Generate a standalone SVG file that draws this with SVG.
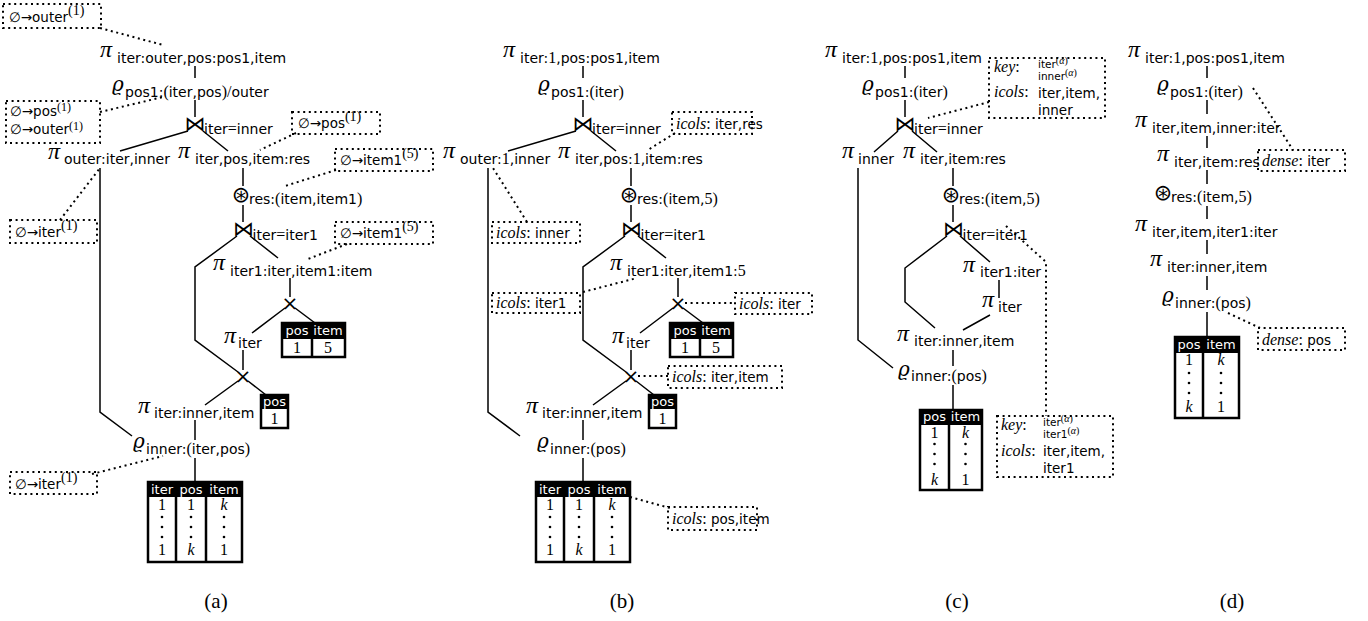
<svg xmlns="http://www.w3.org/2000/svg" width="1368" height="621" viewBox="0 0 1368 621">
<style>
.op{font-family:"Liberation Serif","DejaVu Serif",serif;font-size:24px;font-style:italic}
.rho{font-family:"DejaVu Serif","Liberation Serif",serif;font-size:20px;font-style:italic}
.bow{font-family:"DejaVu Sans",sans-serif;font-size:21px;text-anchor:middle}
.ost{font-family:"DejaVu Sans",sans-serif;font-size:22px;text-anchor:middle}
.x{font-family:"DejaVu Sans",sans-serif;font-size:20px;text-anchor:middle}
.sub{font-family:"DejaVu Sans",sans-serif;font-size:14px}
.rm{font-family:"Liberation Serif",serif;font-size:16px;font-style:normal}
.bt{font-family:"DejaVu Sans",sans-serif;font-size:13.5px}
.sm{font-family:"DejaVu Sans",sans-serif;font-size:10.5px}
.sup{font-family:"Liberation Serif",serif;font-size:14px}
.sup1{font-family:"Liberation Serif",serif;font-size:12px}
.sup2{font-family:"Liberation Serif",serif;font-size:10px}
.it{font-family:"Liberation Serif",serif;font-size:16px;font-style:italic}
.box,.dot{fill:none;stroke:#000;stroke-width:2;stroke-dasharray:2 3.6}
.edge{fill:none;stroke:#000;stroke-width:1.5}
.tbl{fill:#fff;stroke:#000;stroke-width:2.5}
.col{stroke:#000;stroke-width:2.5}
.th{fill:#000}
.tht{font-family:"DejaVu Sans",sans-serif;font-size:13px;fill:#fff;text-anchor:middle}
.td{font-family:"Liberation Serif",serif;font-size:16px;text-anchor:middle}
.tdi{font-style:italic}
.el{fill:#000}
.cap{font-family:"Liberation Serif",serif;font-size:21px;text-anchor:middle}
</style>
<defs>
  <g id="vd3"><circle class="el" cx="0" cy="0" r="1.3"/><circle class="el" cx="0" cy="10" r="1.3"/><circle class="el" cx="0" cy="20" r="1.3"/></g>
</defs>

<g id="connectors">
  <!-- (a) -->
  <path class="edge" d="M195,66 V78 M195,100 V117 M188,131 L120,151 M203,131 L228,151 M243,168 V186 M243,205 V222 M237,236 L195,267 V340 L238,372 M250,236 L278,258 M290,278 V297 M285,308 L252,333 M295,308 L315,323 M243,350 V370 M238,381 L205,405 M248,381 L266,395 M195,420 V440 M195,458 V482 M100,168 V412 L132,436"/>
  <path class="dot" d="M100,28 L163,45 M100,112 L163,97 M296,133 L260,150 M336,170 L285,186 M347,244 L308,259 M60,220 L100,168 M92,474 L163,456"/>
  <!-- (b) -->
  <path class="edge" d="M583,66 V78 M583,100 V117 M576,131 L508,151 M591,131 L616,151 M631,168 V186 M631,205 V222 M625,236 L583,267 V340 L626,372 M638,236 L666,258 M678,278 V297 M673,308 L640,333 M683,308 L703,323 M631,350 V370 M626,381 L593,405 M636,381 L654,395 M583,420 V440 M583,458 V482 M488,168 V412 L520,436"/>
  <path class="dot" d="M675,133 L648,150 M527,222 L493,168 M583,292 L637,278 M685,303 L735,303 M638,376 L668,376 M630,497 L670,508"/>
  <!-- (c) -->
  <path class="edge" d="M905,66 V78 M905,100 V117 M898,131 L874,152 M912,131 L937,152 M858,168 V340 L893,368 M953,168 V186 M953,205 V222 M947,236 L905,268 V302 L935,328 M960,236 L990,262 M999,280 V298 M990,315 L963,330 M953,350 V366 M953,385 V410"/>
  <path class="dot" d="M989,102 L928,118 M1006,226 L1046,262 V416"/>
  <!-- (d) -->
  <path class="edge" d="M1207,66 V78 M1207,100 V114 M1207,136 V148 M1207,170 V184 M1207,206 V219 M1207,240 V254 M1207,276 V290 M1207,312 V337"/>
  <path class="dot" d="M1253,88 L1293,150 M1228,313 L1260,328"/>
</g>

<!-- ===== (a) ===== -->
<g id="a-n1"><text class="op" x="100" y="57">π</text><text class="sub" x="117" y="63">iter:outer,pos:pos1,item</text></g>
<g id="a-n2"><text class="rho" x="112" y="91">ϱ</text><text class="sub" x="125" y="97">pos1:<tspan class="rm">(</tspan>iter,pos<tspan class="rm">)/</tspan>outer</text></g>
<g id="a-n3"><text class="bow" x="195" y="131">⋈</text><text class="sub" x="204" y="134">iter<tspan class="rm">=</tspan>inner</text></g>
<g id="a-n4"><text class="op" x="48" y="159">π</text><text class="sub" x="64" y="164">outer:iter,inner</text></g>
<g id="a-n5"><text class="op" x="178" y="158">π</text><text class="sub" x="195" y="164">iter,pos,item:res</text></g>
<g id="a-n6"><text class="ost" x="241" y="202">⊛</text><text class="sub" x="249" y="204">res:<tspan class="rm">(</tspan>item,item1<tspan class="rm">)</tspan></text></g>
<g id="a-n7"><text class="bow" x="243.5" y="236">⋈</text><text class="sub" x="252.5" y="240">iter<tspan class="rm">=</tspan>iter1</text></g>
<g id="a-n8"><text class="op" x="213" y="270">π</text><text class="sub" x="230" y="276">iter1:iter,item1:item</text></g>
<g id="a-n9"><text class="x" x="290" y="310">×</text></g>
<g id="a-n10">
  <rect class="tbl" x="282" y="323" width="63" height="34"/>
  <rect class="th" x="282" y="323" width="63" height="16"/>
  <path class="col" d="M312,339 V357"/>
  <text class="tht" x="297" y="335">pos</text><text class="tht" x="328" y="335">item</text>
  <text class="td" x="297" y="353">1</text><text class="td" x="328" y="353">5</text>
</g>
<g id="a-n11"><text class="op" x="224" y="343">π</text><text class="sub" x="238" y="348">iter</text></g>
<g id="a-n12"><text class="x" x="243" y="383">×</text></g>
<g id="a-n13">
  <rect class="tbl" x="261" y="395" width="27" height="33"/>
  <rect class="th" x="261" y="395" width="27" height="14"/>
  <text class="tht" x="274.5" y="406">pos</text>
  <text class="td" x="274.5" y="424">1</text>
</g>
<g id="a-n14"><text class="op" x="138" y="413">π</text><text class="sub" x="154" y="418">iter:inner,item</text></g>
<g id="a-n15"><text class="rho" x="133" y="448">ϱ</text><text class="sub" x="146" y="454">inner:<tspan class="rm">(</tspan>iter,pos<tspan class="rm">)</tspan></text></g>
<g id="a-n16">
  <rect class="tbl" x="148" y="482" width="94" height="80"/>
  <rect class="th" x="148" y="482" width="94" height="15"/>
  <path class="col" d="M176,497 V562 M206,497 V562"/>
  <text class="tht" x="162" y="494">iter</text><text class="tht" x="191" y="494">pos</text><text class="tht" x="224" y="494">item</text>
  <text class="td" x="162" y="510">1</text><text class="td" x="191" y="510">1</text><text class="td tdi" x="224" y="510">k</text>
  <use href="#vd3" x="162" y="517"/><use href="#vd3" x="191" y="517"/><use href="#vd3" x="224" y="517"/>
  <text class="td" x="162" y="555">1</text><text class="td tdi" x="191" y="555">k</text><text class="td" x="224" y="555">1</text>
</g>
<g id="a-b1"><rect class="box" x="3" y="4" width="98" height="24"/><text class="bt" x="9" y="22">∅→outer<tspan class="sup" dy="-7">(1)</tspan></text></g>
<g id="a-b2"><rect class="box" x="6" y="101" width="94" height="42"/><text class="bt" x="10" y="116">∅→pos<tspan class="sup1" dy="-5">(1)</tspan></text><text class="bt" x="10" y="134">∅→outer<tspan class="sup1" dy="-4">(1)</tspan></text></g>
<g id="a-b3"><rect class="box" x="292" y="112" width="88" height="22"/><text class="bt" x="298" y="128">∅→pos<tspan class="sup" dy="-7">(1)</tspan></text></g>
<g id="a-b4"><rect class="box" x="335" y="149" width="98" height="22"/><text class="bt" x="340" y="165">∅→item1<tspan class="sup" dy="-7">(5)</tspan></text></g>
<g id="a-b5"><rect class="box" x="10" y="220" width="87" height="23"/><text class="bt" x="15" y="237">∅→iter<tspan class="sup" dy="-7">(1)</tspan></text></g>
<g id="a-b6"><rect class="box" x="335" y="222" width="98" height="22"/><text class="bt" x="340" y="238">∅→item1<tspan class="sup" dy="-7">(5)</tspan></text></g>
<g id="a-b7"><rect class="box" x="10" y="472" width="87" height="22"/><text class="bt" x="15" y="489">∅→iter<tspan class="sup" dy="-7">(1)</tspan></text></g>
<g id="a-cap"><text class="cap" x="216" y="608">(a)</text></g>

<!-- ===== (b) ===== -->
<g id="b-n1"><text class="op" x="503" y="57">π</text><text class="sub" x="520" y="63">iter:<tspan class="rm">1</tspan>,pos:pos1,item</text></g>
<g id="b-n2"><text class="rho" x="538" y="91">ϱ</text><text class="sub" x="551" y="97">pos1:<tspan class="rm">(</tspan>iter<tspan class="rm">)</tspan></text></g>
<g id="b-n3"><text class="bow" x="583" y="131">⋈</text><text class="sub" x="592" y="134">iter<tspan class="rm">=</tspan>inner</text></g>
<g id="b-n4"><text class="op" x="443" y="158">π</text><text class="sub" x="460" y="164">outer:<tspan class="rm">1</tspan>,inner</text></g>
<g id="b-n5"><text class="op" x="558" y="158">π</text><text class="sub" x="575" y="164">iter,pos:<tspan class="rm">1</tspan>,item:res</text></g>
<g id="b-n6"><text class="ost" x="629" y="202">⊛</text><text class="sub" x="637" y="204">res:<tspan class="rm">(</tspan>item,<tspan class="rm">5)</tspan></text></g>
<g id="b-n7"><text class="bow" x="631.5" y="236">⋈</text><text class="sub" x="640.5" y="240">iter<tspan class="rm">=</tspan>iter1</text></g>
<g id="b-n8"><text class="op" x="610" y="270">π</text><text class="sub" x="627" y="276">iter1:iter,item1:<tspan class="rm">5</tspan></text></g>
<g id="b-n9"><text class="x" x="678" y="310">×</text></g>
<g id="b-n10">
  <rect class="tbl" x="670" y="323" width="63" height="34"/>
  <rect class="th" x="670" y="323" width="63" height="16"/>
  <path class="col" d="M700,339 V357"/>
  <text class="tht" x="685" y="335">pos</text><text class="tht" x="716" y="335">item</text>
  <text class="td" x="685" y="353">1</text><text class="td" x="716" y="353">5</text>
</g>
<g id="b-n11"><text class="op" x="612" y="343">π</text><text class="sub" x="626" y="348">iter</text></g>
<g id="b-n12"><text class="x" x="631" y="383">×</text></g>
<g id="b-n13">
  <rect class="tbl" x="649" y="395" width="27" height="33"/>
  <rect class="th" x="649" y="395" width="27" height="14"/>
  <text class="tht" x="662.5" y="406">pos</text>
  <text class="td" x="662.5" y="424">1</text>
</g>
<g id="b-n14"><text class="op" x="526" y="413">π</text><text class="sub" x="542" y="418">iter:inner,item</text></g>
<g id="b-n15"><text class="rho" x="537" y="448">ϱ</text><text class="sub" x="550" y="454">inner:<tspan class="rm">(</tspan>pos<tspan class="rm">)</tspan></text></g>
<g id="b-n16">
  <rect class="tbl" x="536" y="482" width="94" height="80"/>
  <rect class="th" x="536" y="482" width="94" height="15"/>
  <path class="col" d="M564,497 V562 M594,497 V562"/>
  <text class="tht" x="550" y="494">iter</text><text class="tht" x="579" y="494">pos</text><text class="tht" x="612" y="494">item</text>
  <text class="td" x="550" y="510">1</text><text class="td" x="579" y="510">1</text><text class="td tdi" x="612" y="510">k</text>
  <use href="#vd3" x="550" y="517"/><use href="#vd3" x="579" y="517"/><use href="#vd3" x="612" y="517"/>
  <text class="td" x="550" y="555">1</text><text class="td tdi" x="579" y="555">k</text><text class="td" x="612" y="555">1</text>
</g>
<g id="b-b1"><rect class="box" x="672" y="112" width="80" height="22"/><text x="676" y="129"><tspan class="it">icols</tspan><tspan class="rm">:</tspan><tspan class="bt"> iter,res</tspan></text></g>
<g id="b-b2"><rect class="box" x="492" y="222" width="88" height="21"/><text x="496" y="238"><tspan class="it">icols</tspan><tspan class="rm">:</tspan><tspan class="bt"> inner</tspan></text></g>
<g id="b-b3"><rect class="box" x="492" y="293" width="88" height="20"/><text x="496" y="308"><tspan class="it">icols</tspan><tspan class="rm">:</tspan><tspan class="bt"> iter1</tspan></text></g>
<g id="b-b4"><rect class="box" x="735" y="293" width="77" height="21"/><text x="739" y="309"><tspan class="it">icols</tspan><tspan class="rm">:</tspan><tspan class="bt"> iter</tspan></text></g>
<g id="b-b5"><rect class="box" x="668" y="366" width="114" height="22"/><text x="672" y="382"><tspan class="it">icols</tspan><tspan class="rm">:</tspan><tspan class="bt"> iter,item</tspan></text></g>
<g id="b-b6"><rect class="box" x="668" y="507" width="89" height="23"/><text x="672" y="524"><tspan class="it">icols</tspan><tspan class="rm">:</tspan><tspan class="bt"> pos,item</tspan></text></g>
<g id="b-cap"><text class="cap" x="622" y="608">(b)</text></g>

<!-- ===== (c) ===== -->
<g id="c-n1"><text class="op" x="825" y="57">π</text><text class="sub" x="842" y="63">iter:<tspan class="rm">1</tspan>,pos:pos1,item</text></g>
<g id="c-n2"><text class="rho" x="862" y="91">ϱ</text><text class="sub" x="875" y="97">pos1:<tspan class="rm">(</tspan>iter<tspan class="rm">)</tspan></text></g>
<g id="c-n3"><text class="bow" x="905" y="131">⋈</text><text class="sub" x="914" y="134">iter<tspan class="rm">=</tspan>inner</text></g>
<g id="c-n4"><text class="op" x="842" y="158">π</text><text class="sub" x="858" y="164">inner</text></g>
<g id="c-n5"><text class="op" x="903" y="158">π</text><text class="sub" x="920" y="164">iter,item:res</text></g>
<g id="c-n6"><text class="ost" x="951" y="202">⊛</text><text class="sub" x="959" y="204">res:<tspan class="rm">(</tspan>item,<tspan class="rm">5)</tspan></text></g>
<g id="c-n7"><text class="bow" x="953.5" y="236">⋈</text><text class="sub" x="962.5" y="240">iter<tspan class="rm">=</tspan>iter1</text></g>
<g id="c-n8"><text class="op" x="963" y="272">π</text><text class="sub" x="980" y="277">iter1:iter</text></g>
<g id="c-n9"><text class="op" x="982" y="307">π</text><text class="sub" x="998" y="312">iter</text></g>
<g id="c-n10"><text class="op" x="897" y="341">π</text><text class="sub" x="914" y="346">iter:inner,item</text></g>
<g id="c-n11"><text class="rho" x="898" y="376">ϱ</text><text class="sub" x="911" y="381">inner:<tspan class="rm">(</tspan>pos<tspan class="rm">)</tspan></text></g>
<g id="c-n12">
  <rect class="tbl" x="920" y="410" width="62" height="80"/>
  <rect class="th" x="920" y="410" width="62" height="15"/>
  <path class="col" d="M949,425 V490"/>
  <text class="tht" x="934.5" y="421">pos</text><text class="tht" x="965.5" y="421">item</text>
  <text class="td" x="934.5" y="437.5">1</text><text class="td tdi" x="965.5" y="437.5">k</text>
  <use href="#vd3" x="934.5" y="444"/><use href="#vd3" x="965.5" y="444"/>
  <text class="td tdi" x="934.5" y="485">k</text><text class="td" x="965.5" y="485">1</text>
</g>
<g id="c-b1">
  <rect class="box" x="989" y="58" width="116" height="60"/>
  <text x="994" y="72"><tspan class="it">key</tspan><tspan class="rm">:</tspan></text>
  <text class="sm" x="1038" y="67.5">iter<tspan class="sup2" dy="-4">(<tspan font-style="italic">α</tspan>)</tspan></text>
  <text class="sm" x="1038" y="80">inner<tspan class="sup2" dy="-4">(<tspan font-style="italic">α</tspan>)</tspan></text>
  <text x="994" y="97"><tspan class="it">icols</tspan><tspan class="rm">:</tspan></text>
  <text class="bt" x="1038" y="98">iter,item,</text>
  <text class="bt" x="1038" y="115">inner</text>
</g>
<g id="c-b2">
  <rect class="box" x="997" y="416" width="116" height="61"/>
  <text x="1001" y="430"><tspan class="it">key</tspan><tspan class="rm">:</tspan></text>
  <text class="sm" x="1043" y="425.5">iter<tspan class="sup2" dy="-4">(<tspan font-style="italic">α</tspan>)</tspan></text>
  <text class="sm" x="1043" y="438">iter1<tspan class="sup2" dy="-4">(<tspan font-style="italic">α</tspan>)</tspan></text>
  <text x="1001" y="456"><tspan class="it">icols</tspan><tspan class="rm">:</tspan></text>
  <text class="bt" x="1043" y="456">iter,item,</text>
  <text class="bt" x="1043" y="473">iter1</text>
</g>
<g id="c-cap"><text class="cap" x="957" y="608">(c)</text></g>

<!-- ===== (d) ===== -->
<g id="d-n1"><text class="op" x="1128" y="57">π</text><text class="sub" x="1145" y="63">iter:<tspan class="rm">1</tspan>,pos:pos1,item</text></g>
<g id="d-n2"><text class="rho" x="1157" y="91">ϱ</text><text class="sub" x="1170" y="97">pos1:<tspan class="rm">(</tspan>iter<tspan class="rm">)</tspan></text></g>
<g id="d-n3"><text class="op" x="1135" y="127">π</text><text class="sub" x="1152" y="133">iter,item,inner:iter</text></g>
<g id="d-n4"><text class="op" x="1157" y="161">π</text><text class="sub" x="1174" y="167">iter,item:res</text></g>
<g id="d-n5"><text class="ost" x="1163" y="200">⊛</text><text class="sub" x="1171" y="202">res:<tspan class="rm">(</tspan>item,<tspan class="rm">5)</tspan></text></g>
<g id="d-n6"><text class="op" x="1135" y="231">π</text><text class="sub" x="1152" y="237">iter,item,iter1:iter</text></g>
<g id="d-n7"><text class="op" x="1150" y="266">π</text><text class="sub" x="1167" y="272">iter:inner,item</text></g>
<g id="d-n8"><text class="rho" x="1162" y="302">ϱ</text><text class="sub" x="1175" y="308">inner:<tspan class="rm">(</tspan>pos<tspan class="rm">)</tspan></text></g>
<g id="d-n9">
  <rect class="tbl" x="1175" y="337" width="64" height="81"/>
  <rect class="th" x="1175" y="337" width="64" height="16"/>
  <path class="col" d="M1203,353 V418"/>
  <text class="tht" x="1189" y="349">pos</text><text class="tht" x="1221" y="349">item</text>
  <text class="td" x="1189" y="365">1</text><text class="td tdi" x="1221" y="365">k</text>
  <use href="#vd3" x="1189" y="373"/><use href="#vd3" x="1221" y="373"/>
  <text class="td tdi" x="1189" y="412">k</text><text class="td" x="1221" y="412">1</text>
</g>
<g id="d-b1"><rect class="box" x="1258" y="150" width="87" height="21"/><text x="1262" y="166"><tspan class="it">dense</tspan><tspan class="rm">:</tspan><tspan class="bt"> iter</tspan></text></g>
<g id="d-b2"><rect class="box" x="1258" y="328" width="87" height="22"/><text x="1262" y="345"><tspan class="it">dense</tspan><tspan class="rm">:</tspan><tspan class="bt"> pos</tspan></text></g>
<g id="d-cap"><text class="cap" x="1232" y="608">(d)</text></g>
</svg>
